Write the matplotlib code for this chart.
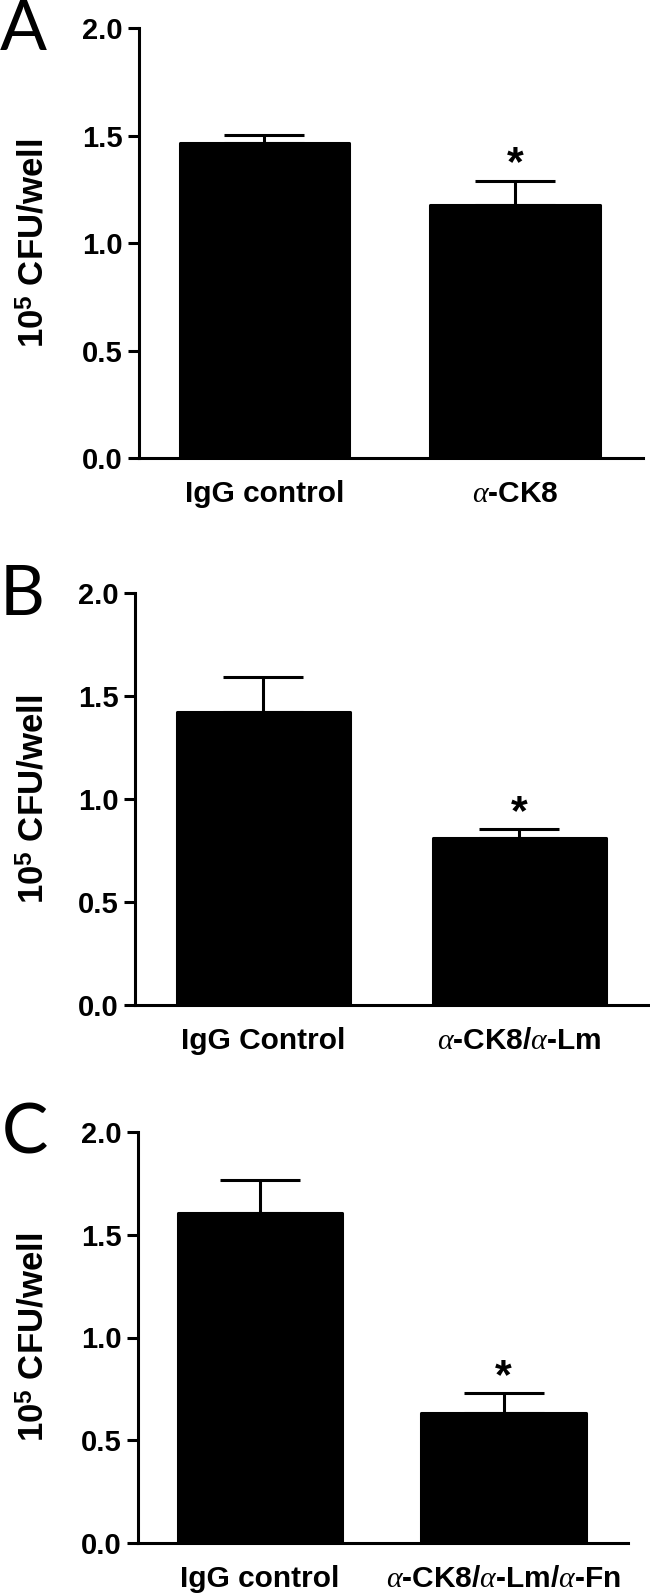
import matplotlib
matplotlib.use("Agg")
import matplotlib.pyplot as plt

# data (10^5 CFU/well), upper SEM only
letters = ["A", "B", "C"]
labels_a = ["IgG control", r"$\alpha$-CK8"]
means_a = [1.468, 1.178]
err_a = [0.035, 0.112]
labels_b = ["IgG Control", r"$\alpha$-CK8/$\alpha$-Lm"]
means_b = [1.422, 0.812]
err_b = [0.172, 0.040]
labels_c = ["IgG control", r"$\alpha$-CK8/$\alpha$-Lm/$\alpha$-Fn"]
means_c = [1.604, 0.631]
err_c = [0.162, 0.097]
signif = [False, True]
yticks = [0.0, 0.5, 1.0, 1.5, 2.0]
ylabel = r"10$^{\mathbf{5}}$ CFU/well"

plt.rcParams["font.family"] = ["Liberation Sans", "DejaVu Sans"]
plt.rcParams["mathtext.fontset"] = "custom"
plt.rcParams["mathtext.bf"] = "Liberation Sans:bold"
plt.rcParams["mathtext.rm"] = "Liberation Sans"
plt.rcParams["mathtext.it"] = "Liberation Serif:italic"

W, H = 650, 1595
fig = plt.figure(figsize=(W / 100, H / 100), dpi=100)

# axes boxes in pixels: left, top (y=2), right, bottom (y=0)
boxes = [(139, 28.3, 643, 458), (135, 593, 650, 1005), (138, 1132, 628, 1543)]
letter_pos = [(0, 50), (0, 615), (2, 1154)]
lw = 2.2


def panel(box, labels, means, errs, letter, lpos):
    l, t, r, b = box
    ax = fig.add_axes([l / W, 1 - b / H, (r - l) / W, (b - t) / H])
    x = [0, 1]
    ax.errorbar(x, means, yerr=[[0, 0], errs], fmt="none", ecolor="black",
                elinewidth=lw, capsize=29, capthick=lw, zorder=2)
    ax.bar(x, means, width=0.675, color="black", edgecolor="black",
           linewidth=lw, joinstyle="round", zorder=3)
    for xi, m, e, s in zip(x, means, errs, signif):
        if s:
            ax.annotate("*", xy=(xi, m + e), xytext=(0, 4), textcoords="offset points",
                        ha="center", va="baseline", fontsize=31, fontweight="bold")
    ax.set_xlim(-0.5, 1.51)
    ax.set_ylim(0, 2)
    ax.set_yticks(yticks)
    ax.set_yticklabels([f"{v:.1f}" for v in yticks], fontweight="bold", fontsize=21)
    ax.set_xticks(x)
    ax.set_xticklabels(labels, fontweight="bold", fontsize=21.5)
    ax.tick_params(axis="y", length=8, width=lw, pad=4)
    ax.tick_params(axis="x", length=0, pad=16)
    for sp in ["top", "right"]:
        ax.spines[sp].set_visible(False)
    for sp in ["left", "bottom"]:
        ax.spines[sp].set_linewidth(lw)
    ax.set_ylabel(ylabel, fontsize=25, fontweight="bold", va="center")
    ax.yaxis.set_label_coords((35 - l) / (r - l), 0.5)
    fig.text(lpos[0] / W, 1 - lpos[1] / H, letter, fontsize=50,
             family=["Lato", "Open Sans", "DejaVu Sans"], fontweight="normal",
             ha="left", va="baseline")
    return ax


panel(boxes[0], labels_a, means_a, err_a, letters[0], letter_pos[0])
panel(boxes[1], labels_b, means_b, err_b, letters[1], letter_pos[1])
panel(boxes[2], labels_c, means_c, err_c, letters[2], letter_pos[2])

fig.savefig("out.png", dpi=100)
